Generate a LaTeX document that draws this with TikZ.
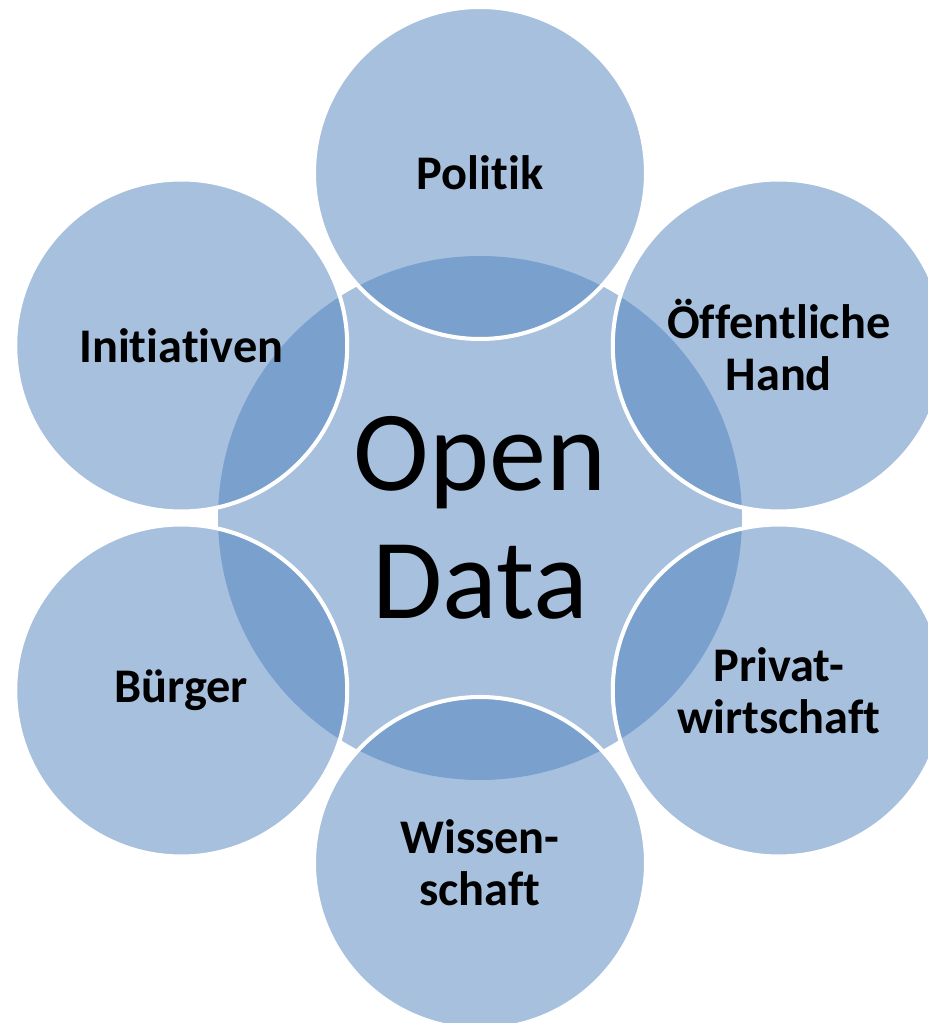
\documentclass[tikz,border=0pt]{standalone}
\usepackage{fontspec}
\setmainfont{Carlito}[Ligatures=NoCommon]

\definecolor{accent}{HTML}{4F81BD}

\tikzset{
	hub/.style={circle,minimum size=10.48cm,inner sep=0pt,fill=accent,fill opacity=0.5,text opacity=1,
		align=center,font=\fontsize{65}{73}\selectfont},
	actor/.style={circle,minimum size=6.64cm,inner sep=0pt,fill=accent,fill opacity=0.5,text opacity=1,
		draw=white,draw opacity=1,line width=2.3pt,align=center,font=\bfseries\fontsize{27.5}{29.6}\selectfont}
}

\begin{document}
\begin{tikzpicture}
		
		%Distance from the centre to the outer circles
		\def\d{6.9}
		
		%Page frame
		\useasboundingbox (0,0) rectangle (18.56,20.46);
		
		%Marking centre
		\coordinate (O) at (9.6,10.1);
		
		%Drawing centre circle
		\node[hub] (data) at (O) {Open\\Data};
		
		%Drawing outer circles
		\node[actor] (politik) at ([shift={(90:\d)}]O) {Politik};
		\node[actor] (hand) at ([shift={(30:\d)}]O) {Öffentliche\\Hand};
		\node[actor] (privat) at ([shift={(-30:\d)}]O) {Privat-\\wirtschaft};
		\node[actor] (wissen) at ([shift={(-90:\d)}]O) {Wissen-\\schaft};
		\node[actor] (buerger) at ([shift={(210:\d)}]O) {Bürger};
		\node[actor] (init) at ([shift={(150:\d)}]O) {Initiativen};
	\end{tikzpicture}
\end{document}
